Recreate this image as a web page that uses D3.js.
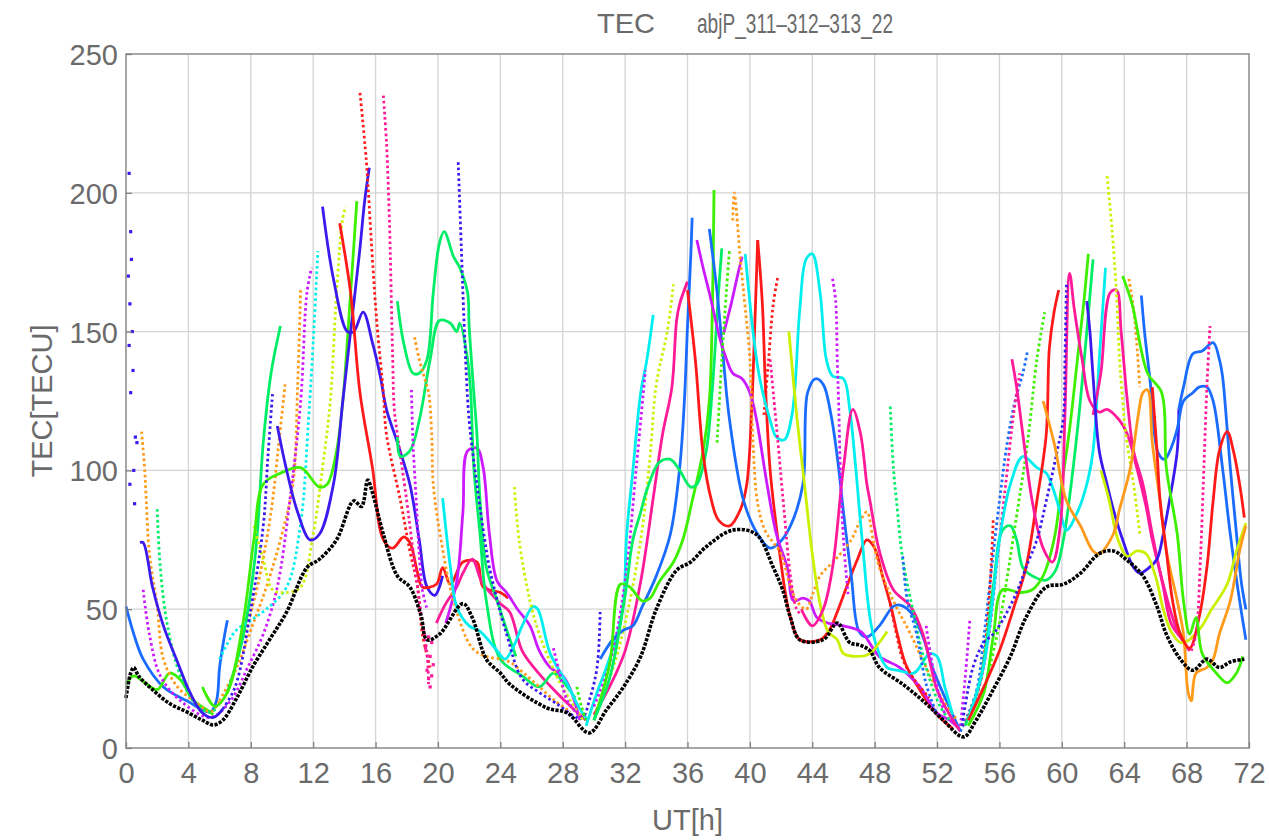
<!DOCTYPE html>
<html><head><meta charset="utf-8">
<script src="https://cdn.jsdelivr.net/npm/d3@7"></script>
<style>body{margin:0;background:#fff}</style>
</head><body>
<svg id="chart" width="1269" height="840"></svg>
<script>
// ---------------- DATA ----------------
const titleLeft = "TEC";
const titleRight = "abjP_311\u2013312\u2013313_22";
const xLabel = "UT[h]";
const yLabel = "TEC[TECU]";
const xTicks = [0,4,8,12,16,20,24,28,32,36,40,44,48,52,56,60,64,68,72];
const yTicks = [0,50,100,150,200,250];

// vertical TEC (black)
const vtec = [[0,18],[0.3,27],[0.5,29],[0.8,26],[1.7,21],[2.8,16],[3.9,13],[4.9,10],[5.6,8.3],[6.2,10],[7.1,18],[8.1,29],[9.2,39],[10.3,49],[11.6,65],[12.4,68],[13.5,75],[14.6,89],[15.1,87],[15.5,96.5],[15.8,92],[16.5,77],[17.4,62],[18.2,58],[18.9,48],[19.3,39],[20.1,41],[21.6,52],[22.2,47],[23.1,32],[24,27],[24.6,23],[27,14.4],[28.3,12.6],[29.7,5.4],[30.8,13.7],[31.9,22],[33,33],[34,50],[35.3,64],[36.2,67],[37.2,72.5],[38.9,78.5],[40.4,77],[41.5,65],[42.1,57],[42.6,47],[43.2,39],[44.7,39],[45.6,45],[46.4,38],[47.1,37],[47.7,35],[48.3,29],[49.8,23],[51.3,16],[52.4,10],[53.7,4],[54.5,10],[55.6,21],[56.7,33],[57.7,47],[59,58],[60.1,59],[61.2,63],[62.4,70],[63.3,71],[64.1,68],[65.2,62],[66.1,51],[66.7,41],[67.6,32],[68.4,28],[69.3,32],[70.1,29],[70.8,31],[71.7,32]];

// satellite arcs, day 1
const a1 = [[0,51],[0.5,41],[1.1,32],[2.4,22],[3.9,17],[5.4,13],[5.8,17],[6.0,29],[6.3,40],[6.5,46]];
const a2 = [[0,23],[0.5,26],[1.1,24],[2,21],[2.8,27],[3.5,24.5],[4.3,17.3],[5.2,13.7],[5.6,12]];
const a3 = [[1.0,114],[1.2,100],[1.3,89],[1.5,70],[2,51],[2.4,32],[3.3,22],[4.6,16],[5.4,13],[6,17]];
const a3b = [[6,17],[7.1,29],[8.1,44],[9,58],[9.9,75],[10.7,95],[11.0,130],[11.2,166]];
const a3c = [[7.6,40],[8.5,60],[9.3,85],[9.8,110],[10.2,131]];
const a4 = [[2,86],[2.2,65],[2.6,46],[3.3,29],[4.3,17],[5.2,13],[5.8,14]];
const a4b = [[6.5,20],[7.5,40],[8.3,70],[8.8,110],[9.3,135],[9.9,152]];
const a5 = [[1.1,57],[1.5,41],[2.2,26],[3.5,17],[5.4,11],[6.7,17],[7.8,29],[8.8,41],[9.7,58],[10.5,89],[11.2,125],[11.6,164],[11.9,173]];
const a6 = [[6,32],[7,42],[8,46],[9,50],[10.3,58],[11.2,81],[11.7,118],[12,146],[12.3,179]];
const a7 = [[8.2,80],[8.8,68],[9.4,57],[10.3,56],[11.2,58],[12,77],[12.6,101],[13.1,125],[13.5,164],[13.9,191],[14.1,195]];
const a8 = [[4.9,22],[5.7,15],[6.5,20],[7.5,45],[8.2,75],[8.8,95],[9.9,99],[11.2,101],[12.4,94],[12.9,95],[13.5,107],[13.9,125],[14.4,164],[14.8,197]];
const a9scatter = [[0.2,207],[0.3,186],[0.35,176],[0.15,170],[0.25,160],[0.4,150],[0.2,145],[0.45,136],[0.3,128],[0.6,112],[0.7,110],[0.5,100],[0.25,95],[0.55,88]];
const a9 = [[0.9,74],[1.1,74],[1.7,58],[2.4,44],[3.3,31],[4.1,20],[4.9,12.6],[5.6,11],[6.2,14]];
const a10 = [[6.2,14],[7,22],[8,50],[8.8,80],[9.1,105],[9.4,128]];
const a11 = [[9.7,116],[10.3,100],[11,85],[11.8,75],[12.4,77],[13.3,95],[13.9,125],[14.4,150],[15,180],[15.3,197],[15.6,209]];
const a12 = [[12.6,195],[13.3,169],[14.2,150],[14.6,150],[15.2,157],[15.8,146],[16.3,134],[16.7,122],[17.4,110],[18.2,95],[18.8,75],[19.3,58],[19.8,55],[20.3,62]];
const a13 = [[13.7,189],[14.4,164],[15,128],[15.8,101],[16.5,75],[17.1,72],[17.8,76],[18.2,74],[18.7,63],[19,58],[19.9,59],[20.3,65],[20.8,59],[21.6,67],[22.5,67],[22.9,58],[24,56],[24.5,54]];
const a14 = [[15,236],[15.4,212],[15.8,176],[16.1,152],[16.5,128],[16.7,113],[17.6,89],[18.2,71],[18.7,58],[19,41],[19.5,29]];
const a15 = [[16.5,235],[16.7,218],[16.9,188],[17,164],[17.1,140],[17.2,122],[17.4,113],[18,89],[18.4,71],[18.8,53],[19.3,34],[19.4,23]];
const a15scatter = [[19.3,28],[19.4,25],[19.5,33],[19.6,38],[19.4,40],[19.7,30],[19.2,36],[19.5,22],[19.6,26]];
const a16 = [[19.9,45],[20.5,52],[21.2,58],[21.6,63],[22.2,68],[22.8,60],[23.5,55],[24,52],[24.6,49],[25.4,35],[26.3,28],[27.6,20],[28.7,14],[29.5,10]];
const a17 = [[20.5,45],[21.2,60],[21.6,85],[21.9,107],[22.5,108],[22.9,101],[23.3,77],[23.8,60],[24.4,56],[25.1,50],[25.9,44],[26.5,35],[27.2,29],[28,26],[28.5,21],[29.1,10]];
const a18 = [[17.4,161],[17.8,146],[18.4,135],[18.8,135],[19.3,140],[19.7,164],[20.1,182],[20.4,186],[21,177],[21.4,173],[21.9,164],[22,152],[22.3,128],[22.5,113],[22.7,89],[23.1,65],[23.8,53],[24.5,41],[25,33]];
const a19 = [[17.4,112],[17.6,105],[18.2,107],[18.8,118],[19.5,140],[20.1,154],[20.8,153],[21.2,150],[21.4,153],[21.9,140],[22.1,128],[22.3,101],[22.7,77],[23.1,53],[24,32],[25.4,26],[26.5,22],[27.4,27],[28,24],[28.8,18]];
const a20 = [[18.5,148],[18.8,140],[19.1,134],[19.4,128],[19.6,113],[19.7,95],[20.2,75],[21,53],[22.2,36],[23.1,33],[24,32],[24.6,31],[25.5,27],[26.5,22],[27.5,17],[28.5,13]];
const a21 = [[20.3,90],[20.8,65],[21.2,51],[22,44],[22.7,42],[23.8,35],[24.3,32],[24.8,36],[25.4,44],[26.1,51],[26.4,50],[27.2,34],[28.3,23],[29,15],[29.6,10]];
const a22 = [[21.3,211],[21.5,180],[21.7,150],[22,118],[22.5,95],[23,75],[23.3,65],[24.4,41],[25.4,25],[26.5,20],[27.6,16],[28.9,11],[29.3,11],[29.7,17],[30.2,29],[30.4,49]];
const a23 = [[24.9,94],[25.2,75],[25.9,53],[26.5,41],[27.6,26],[28.5,17],[29.3,10]];
const a24 = [[18.3,129],[18.4,110],[18.6,90],[18.8,70],[19,57],[19.3,50]];
const a25 = [[27.4,36],[27.8,27],[28.3,17],[29,12]];
const a26 = [[28.9,22],[29.2,15],[29.5,10]];

// day 2
const b1 = [[29.5,8],[30.2,20],[30.8,29],[31.5,41],[31.9,53],[32.1,77],[32.5,100],[33,128],[33.4,140],[33.8,156]];
const b2 = [[30,15],[31,30],[32,60],[32.7,100],[33.3,136]];
const b3 = [[30,12],[31,25],[32,45],[33,75],[33.6,105],[34,131],[34.7,150],[35.1,167]];
const b4 = [[30,12],[31,22],[32,35],[33,60],[33.8,90],[34.4,113],[35,130],[35.3,154],[35.5,160],[36,168]];
const b5 = [[30.4,32],[31.2,39],[31.9,42.5],[32.5,44],[33.1,51],[34,62],[34.9,77],[35.5,101],[35.8,125],[36,152],[36.2,176],[36.3,191]];
const b6 = [[30,10],[31,30],[31.7,59],[32.3,58],[33.1,53],[33.6,54],[34.2,60],[35.1,67],[35.7,75],[36.3,89],[37,107],[37.4,125],[37.6,160],[37.7,201]];
const b7 = [[30,10],[31,25],[32,55],[32.5,75],[33,85],[33.4,93],[34.2,103],[34.9,104],[35.5,100],[36.2,94],[36.6,95],[37.2,107],[37.6,130],[38,165],[38.2,180]];
const b8 = [[36,165],[36.5,140],[37,106],[37.5,90],[38,82],[38.7,80],[39.4,86],[39.8,95],[40.1,120],[40.3,150],[40.5,183]];
const b9 = [[40.5,183],[40.8,160],[41,130],[41.3,100],[41.8,75],[42.3,55],[42.6,47],[43.2,39],[44.5,39],[45.1,42.5],[45.6,49],[46.2,58],[46.9,68],[47.5,75],[48,72],[48.5,62],[49,52],[49.5,40],[50,30],[51,20],[52,12],[53,7]];
const b10 = [[40.9,120],[41.2,140],[41.5,160],[41.8,170]];
const b11 = [[37.4,187],[37.9,164],[38.3,140],[38.7,118],[39.6,89],[40.5,77],[41.3,72],[41.9,74],[42.6,80],[43.4,95],[43.7,128],[44.2,133],[44.7,131],[45.2,120],[45.6,105],[46,85],[46.5,62],[47,42],[47.5,40],[48.3,44],[49.2,51],[49.6,51.5],[50.3,49],[51.1,40],[51.7,29],[52.6,17],[53.5,6]];
const b12 = [[36.6,183],[37,173],[37.4,164],[38.1,147],[38.5,140],[38.9,135],[39.5,133],[40,128],[40.4,119],[41.1,95],[41.7,77],[42.4,65],[42.8,53],[43.4,54],[43.8,53],[44.3,47],[45,45],[46,44],[47.1,42],[48.3,33],[49.6,29],[50.9,22],[52,12.6],[52.8,10],[53.4,7]];
const b13 = [[38.3,149],[38.8,160],[39.2,170],[39.5,177]];
const b14 = [[38.9,190],[39,200],[39.4,175],[39.6,164],[40,140],[40.2,110],[40.5,88],[41,78],[41.5,74],[42,70],[42.5,60],[43,53],[43.6,50],[44,55],[44.5,62],[45.5,68],[46.5,75],[47,81],[47.5,85],[47.9,75],[48.3,65],[49.2,53],[50.3,41],[51.3,29],[52.4,17],[53.3,10]];
const b15 = [[39.7,178],[40.2,150],[40.6,134],[41.3,118],[41.7,112],[42.2,111],[42.7,120],[43.2,158],[43.6,176],[44,178],[44.5,164],[44.9,140],[45.3,134],[46,133],[46.4,122],[46.8,100],[47.2,75],[47.9,41],[48.8,29],[49.5,28],[50.5,27],[51,30],[51.5,34],[52,33],[52.5,22],[53,12]];
const b16 = [[37.9,110],[38.2,140],[38.5,165],[38.7,180]];
const b17 = [[42.5,150],[43,120],[43.5,95],[44,70],[44.5,52],[45,42],[45.6,39],[46,34],[46.9,33],[47.7,34],[48.3,38],[48.8,42]];
const b18 = [[43.3,50],[44,44],[44.7,50],[45.3,65],[46,101],[46.6,122],[47.1,113],[47.5,95],[47.7,89],[48.3,71],[49.2,57],[50.3,51],[51.1,41],[52,21],[52.8,12],[53.5,6]];
const b19 = [[41.3,140],[41.8,110],[42.2,85],[42.6,62],[43,50],[43.3,48]];
const b20 = [[45.3,169],[45.5,161],[45.6,140],[45.7,122],[45.8,100],[46,75],[46.3,55]];
const b21 = [[49,123],[49.2,101],[49.4,89],[49.8,68],[50.4,51],[51.3,29],[52.2,15],[52.8,10]];
const b22 = [[49.8,69],[50.1,53],[50.7,41],[51.3,23],[52,12]];
const b23 = [[49,52],[49.4,41],[49.8,32],[50.5,25],[51.5,18]];
const b25 = [[51.3,44],[51.6,33],[52,22],[52.5,12]];

// day 3
const c1 = [[53.5,8],[53.8,25],[54.1,46]];
const c2 = [[53.5,6],[54.5,20],[55,40],[55.5,65],[56,89],[56.5,110],[57,125],[57.5,135],[57.8,143]];
const c3 = [[53.7,8],[54.6,20],[55.3,40],[55.9,70],[56.4,95],[56.9,120],[57.3,135]];
const c4 = [[54,10],[54.8,25],[55.3,50],[55.6,82]];
const c5 = [[53.8,8],[54.8,25],[55.6,58],[56.2,78.5],[56.7,80],[57.1,75],[57.5,65],[58.1,62],[59,60.5],[59.6,64],[60.1,75],[60.6,95],[61.1,120],[61.6,150],[62,176]];
const c6 = [[54,8],[55,20],[55.6,40],[56.2,57],[57.3,56],[58.1,57],[58.8,62],[59.5,75],[60,95],[60.5,115],[61,140],[61.4,160],[61.7,178]];
const c7 = [[55,20],[56,45],[57,80],[57.8,110],[58.4,140],[58.9,157]];
const c8 = [[54,10],[55,30],[55.5,50],[56,75],[56.7,95],[57.5,105],[58.4,101],[59,99],[59.4,94],[59.9,85],[60.3,78.5],[61,85],[61.6,95],[62,107],[62.4,140],[62.8,173]];
const c9 = [[54,10],[55,22],[56,35],[57,52],[57.7,65],[58.4,89],[59,113],[59.2,144],[59.5,157],[59.8,165]];
const c10 = [[56.8,140],[57.1,130],[57.5,113],[58.1,89],[58.8,72],[59.4,67],[59.9,80],[60.2,120],[60.5,171],[60.8,158],[61.3,140],[61.8,125],[62.4,121],[62.9,122],[63.7,118],[64.2,113],[64.8,101],[65.4,87],[65.8,75],[66.5,59],[67.1,47],[67.6,40],[68.2,35]];
const c11 = [[62,120],[62.5,135],[63.1,164],[63.5,165],[63.8,150],[64.2,125],[64.6,107],[65.2,95],[65.8,77],[66.5,58],[67,45],[67.6,40]];
const c12 = [[53.6,8],[54.3,29],[55,38],[55.6,41],[56.2,46],[57.1,56],[57.7,65],[58.4,75],[59,89],[59.7,107],[60.1,119],[60.2,140],[60.3,168]];
const c13 = [[61.6,161],[61.8,150],[62,134],[62.4,107],[62.9,95],[63.3,86],[63.9,75],[64.6,65],[65,63],[65.6,65],[66.1,68],[66.5,77],[66.9,89],[67.4,107],[67.5,122]];
const c14 = [[65.1,163],[65.3,150],[65.7,130],[65.9,115],[66.2,106],[66.6,104],[67,108],[67.4,115],[67.8,125],[68.4,128],[68.8,130],[69.3,130],[69.7,125],[70.3,101],[70.8,77],[71.4,53],[71.8,39]];
const c15 = [[67.5,122],[67.8,130],[68.4,142],[69,143],[69.7,146],[70.1,140],[70.3,134],[70.5,122],[70.8,101],[71.2,77],[71.5,60],[71.8,50]];
const c16 = [[62.9,206],[63.2,188],[63.5,164],[63.7,140],[63.9,125],[64.1,113],[64.6,95],[65,77]];
const c17 = [[62.5,100],[63,90],[63.6,75],[64.2,69],[64.8,71],[65.4,70],[66,62],[66.5,50],[67,42],[67.6,38],[68.2,39]];
const c18 = [[68.2,39],[69,44],[69.5,49],[70.6,59],[71.2,71],[71.8,81]];
const c19 = [[58.8,125],[59.5,110],[60.3,89],[61.2,80],[62,71],[62.4,70],[63.3,77],[63.7,86],[64.4,101],[64.9,120],[65.2,128],[65.5,129],[65.8,110],[66.3,89],[66.7,71],[67.4,53],[67.8,41],[68.1,20],[68.3,17],[68.6,27],[69.3,29],[69.7,32],[70.1,41],[70.8,53],[71.4,71],[71.8,80]];
const c20 = [[64.3,169],[64.6,158],[64.8,146],[65,130]];
const c21 = [[65.8,130],[66.1,107],[66.3,89],[66.7,71],[67.1,53],[67.6,41],[68.2,36],[68.8,47],[69.3,65],[69.7,89],[70.1,107],[70.6,114],[71,107],[71.4,95],[71.7,83]];
const c22 = [[68.3,35],[68.6,41],[68.9,70],[69.1,100],[69.3,130],[69.5,152]];
const c23 = [[63.9,170],[64.5,160],[65.5,135],[66.4,128],[66.7,101],[67.4,77],[67.8,53],[68.2,41],[68.6,47],[69,34],[69.9,27],[70.6,23.5],[71.2,27],[71.6,33]];

// ---------------- STYLE (kept apart from the data) ----------------
const palette = {R:"#ff1a1a",O:"#ff9a1a",Y:"#ccf000",G:"#3cf000",S:"#00ee66",C:"#00eeee",A:"#1a6cff",B:"#3a1aee",M:"#cc1aff",P:"#ff1a99"};
// [data, colour key, dotted?]
const arcs = [
 [a1,"A",0],[a2,"G",0],[a3,"O",1],[a3b,"O",1],[a3c,"O",1],[a4,"S",1],[a4b,"S",0],[a5,"M",1],[a6,"C",1],[a7,"Y",1],[a8,"G",0],
 [a9,"B",0],[a10,"B",1],[a11,"B",0],[a12,"B",0],[a13,"R",0],[a14,"R",1],[a15,"P",1],[a16,"P",0],[a17,"M",0],[a18,"S",0],[a19,"S",0],
 [a20,"O",1],[a21,"C",0],[a22,"B",1],[a23,"Y",1],[a24,"M",1],[a25,"M",1],[a26,"G",1],
 [b1,"C",0],[b2,"M",1],[b3,"Y",1],[b4,"P",0],[b5,"A",0],[b6,"G",0],[b7,"S",0],[b8,"R",0],[b9,"R",0],[b10,"R",1],[b11,"A",0],[b12,"M",0],
 [b13,"M",0],[b14,"O",1],[b15,"C",0],[b16,"G",1],[b17,"Y",0],[b18,"P",0],[b19,"P",1],[b20,"M",1],[b21,"S",1],[b22,"A",1],[b23,"R",1],[b25,"M",1],
 [c1,"M",1],[c2,"A",1],[c3,"P",1],[c4,"R",1],[c5,"S",0],[c6,"G",0],[c7,"G",1],[c8,"C",0],[c9,"R",0],[c10,"P",0],[c11,"P",0],[c12,"B",1],[c13,"B",0],
 [c14,"A",0],[c15,"A",0],[c16,"Y",1],[c17,"Y",0],[c18,"Y",0],[c19,"O",0],[c20,"O",1],[c21,"R",0],[c22,"P",1],[c23,"G",0]
];

// ---------------- DRAW ----------------
const M = {left:126, right:1249, top:54, bottom:748};
const svg = d3.select("#chart");
const x = d3.scaleLinear().domain([0,72]).range([M.left, M.right]);
const y = d3.scaleLinear().domain([0,250]).range([M.bottom, M.top]);
const font = "'Liberation Sans', Arial, Helvetica, sans-serif";
const grey = "#6b6b6b";

// grid
svg.append("g").selectAll("line").data(xTicks.slice(1,-1)).join("line")
  .attr("x1", d=>x(d)).attr("x2", d=>x(d)).attr("y1", M.top).attr("y2", M.bottom)
  .attr("stroke","#d4d4d4").attr("stroke-width",1.3);
svg.append("g").selectAll("line").data(yTicks.slice(1,-1)).join("line")
  .attr("y1", d=>y(d)).attr("y2", d=>y(d)).attr("x1", M.left).attr("x2", M.right)
  .attr("stroke","#d4d4d4").attr("stroke-width",1.3);

// arcs
const line = d3.line().x(d=>x(d[0])).y(d=>y(d[1])).curve(d3.curveCatmullRom.alpha(0.5));
const gArcs = svg.append("g");
arcs.forEach(([data,c,dotted])=>{
  gArcs.append("path").attr("d", line(data)).attr("fill","none")
    .attr("stroke", palette[c]).attr("stroke-width", 2.8)
    .attr("stroke-dasharray", dotted?"2.6,2.8":null)
    .attr("stroke-linejoin","round");
});
// scatter points
gArcs.selectAll("rect.s1").data(a9scatter).join("rect").attr("class","s1")
  .attr("x", d=>x(d[0])-1.6).attr("y", d=>y(d[1])-1.6).attr("width",3.2).attr("height",3.2).attr("fill",palette.B);
gArcs.selectAll("rect.s2").data(a15scatter).join("rect").attr("class","s2")
  .attr("x", d=>x(d[0])-1.6).attr("y", d=>y(d[1])-1.6).attr("width",3.2).attr("height",3.2).attr("fill",palette.P);

// vertical TEC in black
svg.append("path").attr("d", line(vtec)).attr("fill","none")
  .attr("stroke","#000").attr("stroke-width",3.6).attr("stroke-dasharray","3.2,1.4");

// frame
svg.append("rect").attr("x",M.left).attr("y",M.top).attr("width",M.right-M.left).attr("height",M.bottom-M.top)
  .attr("fill","none").attr("stroke","#8a8a8a").attr("stroke-width",1.5);

// axes via d3
const xAxis = d3.axisBottom(x).tickValues(xTicks).tickSize(-6).tickPadding(14).tickFormat(d3.format("d"));
const gx = svg.append("g").attr("transform",`translate(0,${M.bottom})`).call(xAxis);
const yAxis = d3.axisLeft(y).tickValues(yTicks).tickSize(-6).tickPadding(8).tickFormat(d3.format("d"));
const gy = svg.append("g").attr("transform",`translate(${M.left},0)`).call(yAxis);
[gx,gy].forEach(g=>{
  g.select(".domain").remove();
  g.selectAll(".tick line").attr("stroke","#808080").attr("stroke-width",1.3);
  g.selectAll("text").attr("fill",grey).style("font-family",font).style("font-size","29px");
});
gy.selectAll(".tick text").attr("dy","0.36em");

// titles
svg.append("text").attr("x",597).attr("y",33).text(titleLeft)
  .attr("fill",grey).style("font-family",font).style("font-size","28px")
  .attr("textLength",58).attr("lengthAdjust","spacingAndGlyphs");
svg.append("text").attr("x",697).attr("y",33).text(titleRight)
  .attr("fill",grey).style("font-family",font).style("font-size","28px")
  .attr("textLength",196).attr("lengthAdjust","spacingAndGlyphs");
svg.append("text").attr("x",(M.left+M.right)/2).attr("y",830).attr("text-anchor","middle").text(xLabel)
  .attr("fill",grey).style("font-family",font).style("font-size","29px");
svg.append("text").attr("transform",`translate(52,${(M.top+M.bottom)/2}) rotate(-90)`).attr("text-anchor","middle").text(yLabel)
  .attr("fill",grey).style("font-family",font).style("font-size","29px");
</script>
</body></html>
